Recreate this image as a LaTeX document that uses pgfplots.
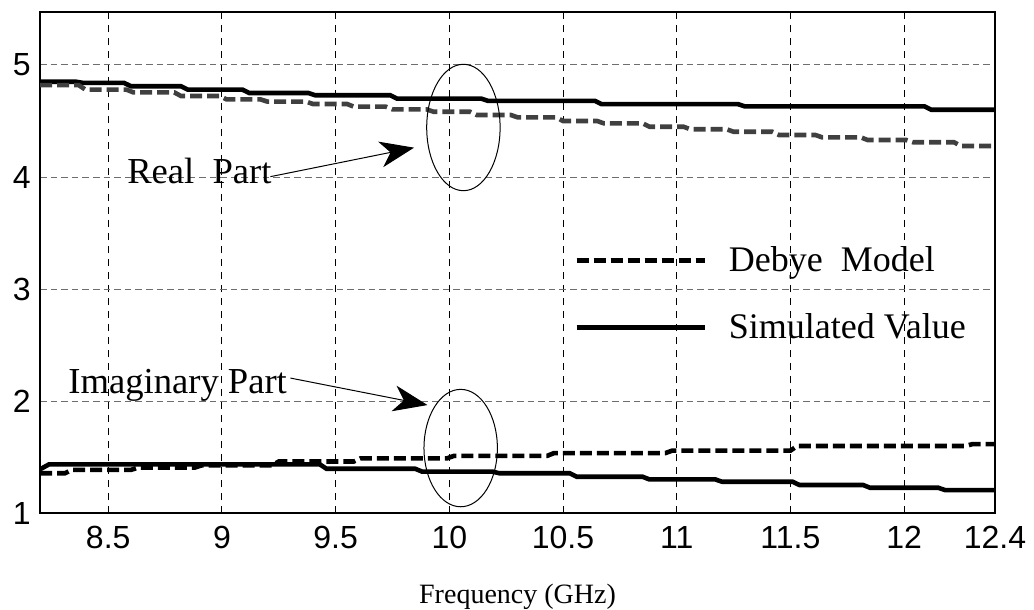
\documentclass[border=0pt]{standalone}
\usepackage{pgfplots}
\pgfplotsset{compat=1.18}
\usepackage{fontspec}
\setmainfont{Liberation Serif}
\newfontfamily\arialfont{Liberation Sans}
\usetikzlibrary{arrows.meta}
\definecolor{realdebye}{HTML}{404040}
\definecolor{gridgray}{HTML}{6E6E6E}

\begin{document}
\begin{tikzpicture}

\begin{axis}[%
width=477.5pt,
height=250.5pt,
scale only axis,
xmin=8.2,
xmax=12.4,
ymin=1,
ymax=5.473,
xtick={8.5,9,9.5,10,10.5,11,11.5,12,12.4},
ytick={1,2,3,4,5},
major tick length=0pt,
grid=major,
major x grid style={black, line width=0.5pt, dash pattern=on 3.5pt off 3pt},
major y grid style={gridgray, line width=0.5pt, dash pattern=on 3.3pt off 2pt},
axis line style={line width=0.7pt},
/pgf/number format/assume math mode=true,
tick label style={font=\arialfont\fontsize{16}{16}\selectfont},
xticklabel style={yshift=-3pt},
yticklabel style={xshift=-1.2pt},
xlabel={Frequency (GHz)},
xlabel style={font=\fontsize{14}{14}\selectfont, at={(axis description cs:0.5,-0.18)}, anchor=base},
legend style={draw=none, fill=none, at={(rel axis cs:0.559,0.541)}, anchor=north west,
  inner sep=0pt, font=\fontsize{18}{18}\selectfont, row sep=15.5pt,
  legend cell align=left, nodes={inner sep=2pt},
  /tikz/every odd column/.append style={column sep=9pt}},
legend image code/.code={\draw[#1] (0pt,0pt) -- (64pt,0pt);},
]

% real part, simulated
\addplot [color=black, solid, line width=2.3pt, forget plot]
table[row sep=crcr]{
8.2 4.85\\
8.36 4.85\\
8.39 4.84\\
8.57 4.84\\
8.60 4.81\\
8.82 4.81\\
8.85 4.78\\
9.09 4.78\\
9.12 4.75\\
9.38 4.75\\
9.41 4.73\\
9.74 4.73\\
9.77 4.70\\
10.14 4.70\\
10.17 4.68\\
10.64 4.68\\
10.67 4.65\\
11.27 4.65\\
11.30 4.63\\
12.09 4.63\\
12.12 4.60\\
12.40 4.60\\
};

% real part, Debye model
\addplot [color=realdebye, line width=2.3pt, dash pattern=on 6pt off 2.5pt, forget plot]
table[row sep=crcr]{
8.2 4.82\\
8.37 4.82\\
8.40 4.78\\
8.58 4.78\\
8.61 4.756\\
8.79 4.756\\
8.82 4.723\\
8.99 4.723\\
9.02 4.693\\
9.17 4.693\\
9.20 4.673\\
9.37 4.673\\
9.40 4.652\\
9.55 4.652\\
9.58 4.628\\
9.72 4.628\\
9.75 4.604\\
9.90 4.604\\
9.93 4.583\\
10.09 4.583\\
10.12 4.554\\
10.27 4.554\\
10.30 4.533\\
10.47 4.533\\
10.50 4.50\\
10.65 4.50\\
10.68 4.479\\
10.85 4.479\\
10.88 4.449\\
11.03 4.449\\
11.06 4.426\\
11.22 4.426\\
11.25 4.404\\
11.42 4.404\\
11.45 4.375\\
11.61 4.375\\
11.64 4.354\\
11.81 4.354\\
11.84 4.33\\
12.01 4.33\\
12.04 4.31\\
12.22 4.31\\
12.25 4.277\\
12.40 4.277\\
};

% imaginary part, Debye model
\addplot [color=black, line width=2.3pt, dash pattern=on 6pt off 2.5pt, forget plot]
table[row sep=crcr]{
8.2 1.355\\
8.31 1.355\\
8.34 1.385\\
8.60 1.385\\
8.63 1.405\\
8.88 1.405\\
8.91 1.425\\
9.22 1.425\\
9.25 1.46\\
9.58 1.46\\
9.61 1.488\\
9.99 1.488\\
10.02 1.51\\
10.43 1.51\\
10.46 1.535\\
10.95 1.535\\
10.98 1.557\\
11.50 1.557\\
11.53 1.598\\
12.27 1.598\\
12.30 1.615\\
12.40 1.615\\
};

% imaginary part, simulated
\addplot [color=black, solid, line width=2.3pt, forget plot]
table[row sep=crcr]{
8.2 1.39\\
8.24 1.435\\
9.43 1.435\\
9.46 1.395\\
9.85 1.395\\
9.88 1.37\\
10.19 1.37\\
10.22 1.355\\
10.53 1.355\\
10.56 1.324\\
10.85 1.324\\
10.88 1.30\\
11.17 1.30\\
11.20 1.279\\
11.51 1.279\\
11.54 1.25\\
11.82 1.25\\
11.85 1.226\\
12.15 1.226\\
12.18 1.205\\
12.40 1.205\\
};

\addlegendimage{black, line width=2.3pt, dash pattern=on 6pt off 2.5pt}
\addlegendentry{Debye\ \ Model}
\addlegendimage{black, solid, line width=2.3pt}
\addlegendentry{Simulated Value}

% annotations
\draw[line width=0.5pt] (axis cs:10.062,4.442) ellipse [x radius=18.35pt, y radius=31.6pt];
\draw[line width=0.5pt] (axis cs:10.05,1.58) ellipse [x radius=18.35pt, y radius=29.35pt];
\draw[line width=0.5pt, -{Stealth[length=17pt, width=13pt, inset=5pt]}] (axis cs:9.213,4.003) -- (axis cs:9.845,4.262);
\draw[line width=0.5pt, -{Stealth[length=17pt, width=13pt, inset=5pt]}] (axis cs:9.301,2.205) -- (axis cs:9.904,1.964);
\node[anchor=base west, inner sep=0pt, font=\fontsize{18.3}{18.3}\selectfont] at (axis cs:8.582,3.946) {Real\ \ Part};
\node[anchor=base west, inner sep=0pt, font=\fontsize{18.3}{18.3}\selectfont] at (axis cs:8.323,2.071) {Imaginary Part};

\coordinate (bbsw) at (rel axis cs:-0.0419,-0.1916);
\coordinate (bbne) at (rel axis cs:1.0408,1.024);
\end{axis}
\pgfresetboundingbox
\path[use as bounding box] (bbsw) rectangle (bbne);
\end{tikzpicture}
\end{document}
